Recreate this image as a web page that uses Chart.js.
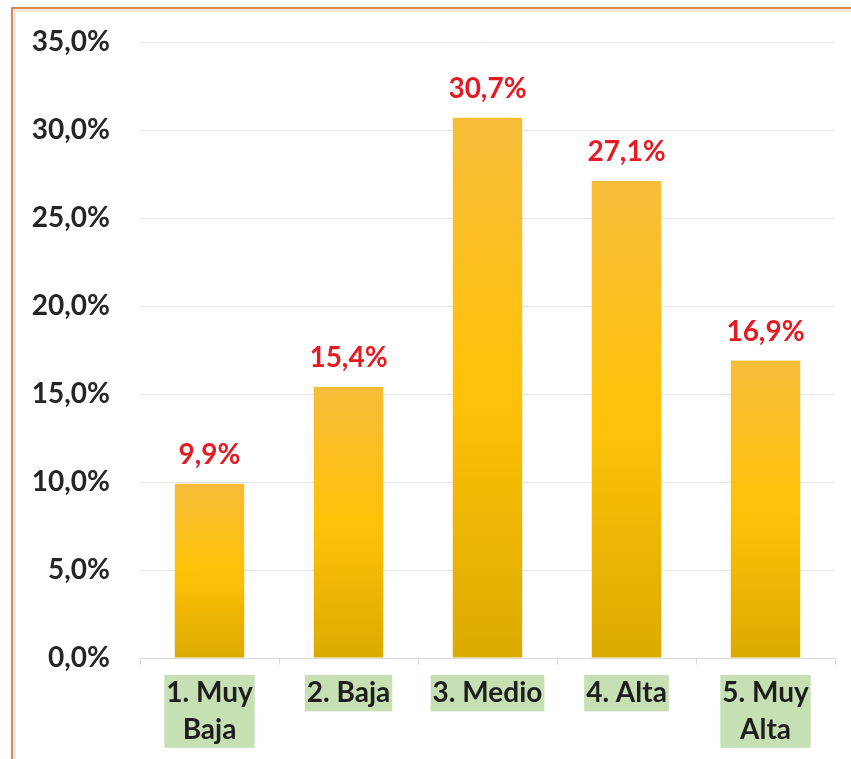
<!DOCTYPE html>
<html>
<head>
<meta charset="utf-8">
<script src="https://cdn.jsdelivr.net/npm/chart.js@4"></script>
<style>
  body { margin: 0; background: #fff; }
  #wrap { width: 851px; height: 759px; }
</style>
</head>
<body>
<div id="wrap"><canvas id="nivelChart" width="851" height="759"></canvas></div>
<script>
// Datos del gráfico
const categorias = [['1. Muy', 'Baja'], ['2. Baja'], ['3. Medio'], ['4. Alta'], ['5. Muy', 'Alta']];
const porcentajes = [9.9, 15.4, 30.7, 27.1, 16.9];
const yMin = 0;
const yMax = 35;
const yPaso = 5;

const fmt = (v, dec) => v.toFixed(dec).replace('.', ',') + '%';
const fuente = 'Lato, "DejaVu Sans", sans-serif';
const tamFuente = 28;
const altoLinea = 1.3;
const tickLargo = 7;
const tickPad = 10;

// Marco naranja (solo arriba e izquierda, como en el original)
const marco = {
    id: 'marco',
    beforeDraw(chart) {
        const c = chart.ctx;
        c.save();
        c.fillStyle = '#fff';
        c.fillRect(0, 0, chart.width, chart.height);
        c.strokeStyle = '#fbe6d4';
        c.lineWidth = 3;
        c.beginPath();
        c.moveTo(14.5, chart.height);
        c.lineTo(14.5, 10.5);
        c.lineTo(chart.width, 10.5);
        c.stroke();
        c.strokeStyle = '#d38d5b';
        c.lineWidth = 2;
        c.beginPath();
        c.moveTo(12, chart.height);
        c.lineTo(12, 8);
        c.lineTo(chart.width, 8);
        c.stroke();

        // Fondo verde detrás de las etiquetas de categoría
        const x = chart.scales.x;
        c.font = 'bold ' + tamFuente + 'px ' + fuente;
        c.fillStyle = '#c6e0b4';
        const lh = tamFuente * altoLinea;
        categorias.forEach((lineas, i) => {
            const w = Math.max(...lineas.map(l => c.measureText(l).width)) + 4;
            const h = lineas.length * lh;
            const cx = x.getPixelForTick(i);
            const top = x.top + tickLargo + tickPad;
            c.fillRect(cx - w / 2, top, w, h);
        });
        c.restore();
    }
};

// Etiquetas de valor encima de cada barra
const etiquetas = {
    id: 'etiquetas',
    afterDatasetsDraw(chart) {
        const c = chart.ctx;
        const meta = chart.getDatasetMeta(0);
        c.save();
        c.font = 'bold ' + tamFuente + 'px ' + fuente;
        c.fillStyle = '#e31c23';
        c.textAlign = 'center';
        c.textBaseline = 'bottom';
        meta.data.forEach((bar, i) => {
            c.fillText(fmt(porcentajes[i], 1), bar.x, bar.y - 15);
        });
        c.restore();
    }
};

const ctx = document.getElementById('nivelChart').getContext('2d');

new Chart(ctx, {
    type: 'bar',
    data: {
        labels: categorias,
        datasets: [{
            data: porcentajes,
            backgroundColor: (context) => {
                const chart = context.chart;
                if (!chart.chartArea) return '#ffc000';
                const y = chart.scales.y;
                const top = y.getPixelForValue(context.raw);
                const bottom = y.getPixelForValue(0);
                const g = chart.ctx.createLinearGradient(0, top, 0, bottom);
                g.addColorStop(0, '#f7bd3a');
                g.addColorStop(0.5, '#ffc208');
                g.addColorStop(1, '#dcaa00');
                return g;
            },
            borderWidth: 0,
            barPercentage: 0.5,
            categoryPercentage: 1
        }]
    },
    options: {
        responsive: false,
        animation: false,
        layout: { padding: { left: 20, right: 16, top: 42, bottom: 0 } },
        plugins: {
            legend: { display: false },
            tooltip: { enabled: false }
        },
        scales: {
            x: {
                grid: { drawOnChartArea: false, color: '#d9d9d9', tickLength: tickLargo },
                border: { color: '#d9d9d9' },
                ticks: {
                    color: '#1e1e1e',
                    font: { family: fuente, size: tamFuente, weight: 'bold', lineHeight: altoLinea },
                    padding: tickPad,
                    maxRotation: 0,
                    autoSkip: false
                },
                afterFit: (scale) => { scale.height = 101; }
            },
            y: {
                min: yMin,
                max: yMax,
                grid: { color: '#e4e4e4', drawTicks: false },
                border: { display: false },
                ticks: {
                    stepSize: yPaso,
                    color: '#262626',
                    padding: 30,
                    font: { family: fuente, size: tamFuente, weight: 'bold' },
                    callback: (v) => fmt(v, 1)
                },
                afterFit: (scale) => {
                    scale.width = 120;
                    // el padding de las etiquetas no debe empujar el área del gráfico
                    scale.paddingTop = 10;
                    scale.paddingBottom = 10;
                }
            }
        }
    },
    plugins: [marco, etiquetas]
});
</script>
</body>
</html>
